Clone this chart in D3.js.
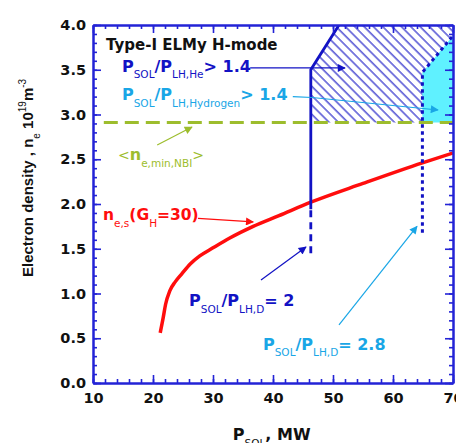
<!DOCTYPE html>
<html lang="en">
<head>
  <meta charset="UTF-8">
  <title>Electron density vs P_SOL</title>
  <style>
    body { margin: 0; background: #fff; }
    svg text { font-family: 'DejaVu Sans', sans-serif; white-space: pre; }
  </style>
</head>
<body>
  <div class="workspace"></div>
  <script src="https://cdn.jsdelivr.net/npm/d3@7"></script>
  <script>
    // axis ticks
    const xMajor = [10, 20, 30, 40, 50, 60, 70]
    const xMinor = d3.range(10, 70.1, 2)
    const yMajor = [0, 0.5, 1, 1.5, 2, 2.5, 3, 3.5, 4]
    const yMinor = d3.range(0, 4.01, 0.1)

    // n_e,s(G_H=30) curve
    const curveP = [21.2, 21.7, 22.1, 22.8, 23.7, 24.8, 26.2, 27.8, 30, 32.8, 36.7, 41, 46.3, 55, 64.9, 70]
    const curveN = [0.56, 0.73, 0.88, 1.03, 1.13, 1.22, 1.33, 1.42, 1.51, 1.62, 1.75, 1.87, 2.02, 2.23, 2.46, 2.57]

    // <n_e,min,NBI>
    const nbiLevel = 2.91
    const nbiStart = 11.8

    // P_SOL/P_LH,D = 2 boundary (He > 1.4 above the corner)
    const heP = [46.3, 46.3, 51]
    const heN = [1.94, 3.5, 4.0]
    const heDashN = [1.45, 1.94]

    // P_SOL/P_LH,D = 2.8 boundary (Hydrogen > 1.4 above the corner)
    const hydP = [64.9, 64.9, 70]
    const hydN = [1.68, 3.47, 3.88]

    const colors = {
      frame: '#2323d6',
      blue: '#1212c4',
      cyan: '#19a6e6',
      fill: '#5ff1ff',
      olive: '#9dbd2d',
      red: '#ff0d0d'
    }

    const width = 456
    const height = 443
    const margin = { top: 25, right: 3, bottom: 60, left: 93 }

    const svg = d3.select('.workspace').append('svg')
      .attr('width', width)
      .attr('height', height)

    const x = d3.scaleLinear().domain([10, 70]).range([margin.left, width - margin.right])
    const y = d3.scaleLinear().domain([0, 4]).range([height - margin.bottom, margin.top])

    const defs = svg.append('defs')
    defs.append('clipPath').attr('id', 'plot')
      .append('rect')
      .attr('x', x(10)).attr('y', y(4))
      .attr('width', x(70) - x(10)).attr('height', y(0) - y(4))

    const hatch = defs.append('pattern')
      .attr('id', 'hatch')
      .attr('patternUnits', 'userSpaceOnUse')
      .attr('width', 6.6).attr('height', 10)
      .attr('patternTransform', 'rotate(-45)')
    hatch.append('line')
      .attr('x1', 1).attr('x2', 1).attr('y1', 0).attr('y2', 10)
      .attr('stroke', colors.blue).attr('stroke-width', 1.1)

    Object.entries({ blue: colors.blue, cyan: colors.cyan, olive: colors.olive, red: colors.red })
      .forEach(([k, c]) => {
        defs.append('marker')
          .attr('id', 'arrow-' + k)
          .attr('viewBox', '0 0 10 10')
          .attr('refX', 9).attr('refY', 5)
          .attr('markerUnits', 'userSpaceOnUse')
          .attr('markerWidth', 10).attr('markerHeight', 8)
          .attr('orient', 'auto')
          .append('path')
          .attr('d', 'M0,0L10,5L0,10Z')
          .attr('fill', c)
      })

    const plot = svg.append('g').attr('clip-path', 'url(#plot)')
    const line = d3.line().x(d => x(d[0])).y(d => y(d[1]))

    // hatched He region and cyan hydrogen region
    const heRegion = heP.map((p, i) => [p, heN[i]]).slice(1)
    heRegion.unshift([heP[0], nbiLevel])
    heRegion.push([70, 4], [70, nbiLevel])
    plot.append('path')
      .attr('d', line(heRegion) + 'Z')
      .attr('fill', 'url(#hatch)')

    const hydRegion = [[hydP[0], nbiLevel]]
      .concat(hydP.map((p, i) => [p, hydN[i]]).slice(1))
      .concat([[70, nbiLevel]])
    plot.append('path')
      .attr('d', line(hydRegion) + 'Z')
      .attr('fill', colors.fill)

    // NBI density
    plot.append('path')
      .attr('d', line([[nbiStart, nbiLevel], [70, nbiLevel]]))
      .attr('stroke', colors.olive).attr('stroke-width', 3)
      .attr('stroke-dasharray', '14,7').attr('fill', 'none')

    // red curve
    const smooth = d3.line().x(d => x(d[0])).y(d => y(d[1])).curve(d3.curveMonotoneX)
    plot.append('path')
      .attr('d', smooth(curveP.map((p, i) => [p, curveN[i]])))
      .attr('stroke', colors.red).attr('stroke-width', 3.5).attr('fill', 'none')
      .attr('stroke-linejoin', 'round')

    // blue boundaries
    plot.append('path')
      .attr('d', line(heP.map((p, i) => [p, heN[i]])))
      .attr('stroke', colors.blue).attr('stroke-width', 2.8).attr('fill', 'none')
    plot.append('path')
      .attr('d', line(heDashN.map(n => [heP[0], n])))
      .attr('stroke', colors.blue).attr('stroke-width', 2.8)
      .attr('stroke-dasharray', '7,5').attr('fill', 'none')
    plot.append('path')
      .attr('d', line(hydP.map((p, i) => [p, hydN[i]])))
      .attr('stroke', colors.blue).attr('stroke-width', 3)
      .attr('stroke-dasharray', '3.5,3.5').attr('fill', 'none')

    // axes
    const frame = svg.append('g')
    function addAxis(axis, tr, vals, size, labels) {
      const g = frame.append('g').attr('transform', tr)
        .call(axis.tickValues(vals).tickSizeInner(size).tickSizeOuter(0)
          .tickPadding(labels ? 8 : 0)
          .tickFormat(labels ? labels : ''))
      g.select('.domain').attr('stroke', colors.frame).attr('stroke-width', 2)
      g.selectAll('.tick line').attr('stroke', colors.frame).attr('stroke-width', 1.6)
      g.selectAll('.tick text')
        .attr('fill', '#111')
        .style('font-size', '14.5px').style('font-weight', 'bold')
        .style('font-family', "'DejaVu Sans', sans-serif")
      return g
    }
    const xTop = `translate(0,${y(4)})`
    const xBot = `translate(0,${y(0)})`
    const yLeft = `translate(${x(10)},0)`
    const yRight = `translate(${x(70)},0)`
    addAxis(d3.axisBottom(x), xBot, xMinor, -4)
    addAxis(d3.axisTop(x), xTop, xMinor, -4)
    addAxis(d3.axisLeft(y), yLeft, yMinor, -4)
    addAxis(d3.axisRight(y), yRight, yMinor, -4)
    addAxis(d3.axisBottom(x), xBot, xMajor, -8, d3.format('d'))
      .selectAll('.tick text').attr('dy', '0.85em')
    addAxis(d3.axisTop(x), xTop, xMajor, -8)
    addAxis(d3.axisLeft(y), yLeft, yMajor, -8, d3.format('.1f'))
      .selectAll('.tick text').attr('x', -7)
    addAxis(d3.axisRight(y), yRight, yMajor, -8)

    // rich text with subscripts / superscripts
    function rich(parent, px, py, parts, opts) {
      const big = opts.size || 16
      const small = opts.small || 10.5
      const t = parent.append('text')
        .attr('x', px).attr('y', py)
        .attr('fill', opts.color)
        .attr('text-anchor', opts.anchor || 'start')
      if (opts.rotate) t.attr('transform', `rotate(-90,${px},${py})`)
      if (opts.family) t.style('font-family', opts.family)
      let shift = 0
      parts.forEach(p => {
        const s = typeof p === 'string' ? { t: p } : p
        const target = s.sub ? 6.5 : s.sup ? -7 : 0
        const isSmall = s.sub || s.sup
        t.append('tspan')
          .attr('dy', target - shift)
          .style('font-size', (isSmall ? small : (s.size || big)) + 'px')
          .style('font-weight', isSmall || s.normal ? 'normal' : 'bold')
          .text(s.t)
        shift = target
      })
      return t
    }

    const notes = svg.append('g')
    rich(notes, x(12.17), y(3.72), ['Type-I ELMy H-mode'], { color: '#111', size: 15 })
    rich(notes, x(14.83), y(3.475),
      ['P', { t: 'SOL', sub: 1 }, '/P', { t: 'LH,He', sub: 1 }, '> 1.4'], { color: colors.blue })
    rich(notes, x(14.83), y(3.16),
      ['P', { t: 'SOL', sub: 1 }, '/P', { t: 'LH,Hydrogen', sub: 1 }, '> 1.4'], { color: colors.cyan })
    rich(notes, x(14.17), y(2.49),
      [{ t: '<', normal: 1, size: 14 }, 'n', { t: 'e,min,NBI', sub: 1 }, { t: '>', normal: 1, size: 14 }],
      { color: colors.olive })
    rich(notes, x(11.67), y(1.82),
      ['n', { t: 'e,s', sub: 1 }, '(G', { t: 'H', sub: 1 }, '=30)'], { color: colors.red, size: 15.5 })
    rich(notes, x(26), y(0.86),
      ['P', { t: 'SOL', sub: 1 }, '/P', { t: 'LH,D', sub: 1 }, '= 2'], { color: colors.blue })
    rich(notes, x(38.33), y(0.37),
      ['P', { t: 'SOL', sub: 1 }, '/P', { t: 'LH,D', sub: 1 }, '= 2.8'], { color: colors.cyan })

    // arrows (data coordinates)
    const arrows = [
      { c: 'blue', pts: [[36.2, 3.52], [52, 3.52]] },
      { c: 'cyan', pts: [[43.3, 3.2], [46.5, 3.19], [67.5, 3.05]] },
      { c: 'olive', pts: [[20.7, 2.66], [26.5, 2.86]] },
      { c: 'red', pts: [[27.5, 1.84], [36.7, 1.8]] },
      { c: 'blue', pts: [[38, 1.15], [45.5, 1.52]] },
      { c: 'cyan', pts: [[51, 0.65], [64, 1.75]] }
    ]
    notes.selectAll('.arrow')
      .data(arrows)
      .enter().append('path')
      .attr('class', 'arrow')
      .attr('d', d => line(d.pts))
      .attr('fill', 'none')
      .attr('stroke', d => colors[d.c])
      .attr('stroke-width', 1.2)
      .attr('marker-end', d => `url(#arrow-${d.c})`)

    // axis titles
    rich(svg, x(33.3), height - 3,
      ['P', { t: 'SOL', sub: 1 }, ', MW'], { color: '#111' })
    rich(svg, 33, 277,
      ['Electron density , n', { t: 'e', sub: 1 }, ' 10', { t: '19', sup: 1 }, 'm', { t: '-3', sup: 1 }],
      { color: '#111', size: 15, small: 10, rotate: true, family: "'Liberation Sans', Arial, sans-serif" })
  </script>
</body>
</html>
